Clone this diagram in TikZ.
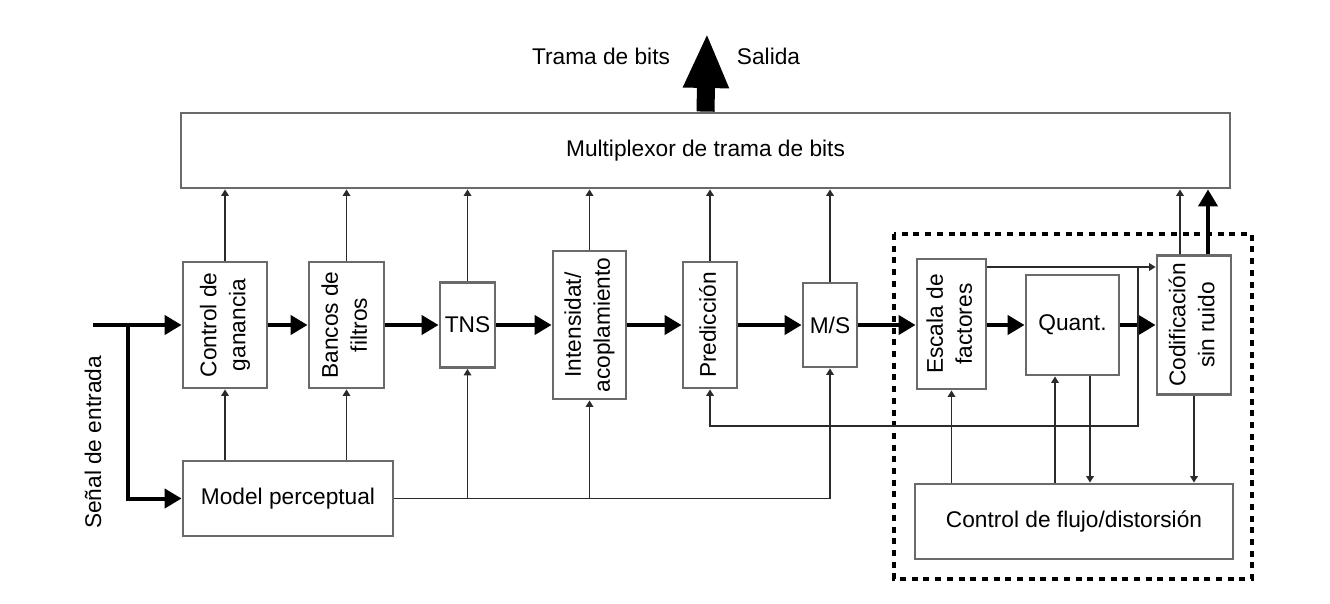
\documentclass[tikz,border=0pt]{standalone}
\usepackage{graphicx}
\usepackage{fontspec}
\setmainfont{Liberation Sans}
\usetikzlibrary{arrows.meta,calc}
\definecolor{boxgray}{HTML}{6A6A6A}
\definecolor{linegray}{HTML}{2A2A2A}
\newcommand{\rtxt}[1]{\rotatebox{90}{\begin{tabular}{@{}c@{}}#1\end{tabular}}}
\begin{document}
\begin{tikzpicture}[x=1pt,y=-1pt,
  every node/.style={font=\fontsize{22.7}{29}\selectfont},
  box/.style={draw=boxgray, line width=2.8pt, inner sep=0pt, align=center},
  thinarr/.style={draw=linegray, line width=1.8pt, -{Triangle[length=6.5pt,width=7.5pt]}},
  thickarr/.style={draw=black, line width=4pt, -{Triangle[length=17pt,width=19pt]}},
  dashbox/.style={draw=black, line width=4pt, dash pattern=on 6pt off 5.7pt},
]
\useasboundingbox (0,0) rectangle (1330,604);

% dashed group
\draw[dashbox] (894,234) rectangle (1252,579);

% boxes
\node[box, minimum width=1049pt, minimum height=75pt] (mux) at (705.5,150.5) {Multiplexor de trama de bits};
\node[box, minimum width=84pt, minimum height=126pt] (ctrl) at (225,325) {\rtxt{Control de\\ganancia}};
\node[box, minimum width=75pt, minimum height=126pt] (banc) at (346.5,325) {\rtxt{Bancos de\\filtros}};
\node[box, minimum width=55pt, minimum height=85pt] (tns) at (467.5,325) {TNS};
\node[box, minimum width=73pt, minimum height=148pt] (inten) at (589.5,325) {\rtxt{Intensidat/\\acoplamiento}};
\node[box, minimum width=54pt, minimum height=126pt] (pred) at (710,325) {\rtxt{Predicción}};
\node[box, minimum width=54pt, minimum height=84pt] (ms) at (830,325) {M/S};
\node[box, minimum width=69pt, minimum height=130pt] (esc) at (951.5,324) {\rtxt{Escala de\\factores}};
\node[box, minimum width=93pt, minimum height=100pt] (quant) at (1072.5,325) {Quant.};
\node[box, minimum width=74pt, minimum height=139pt] (codif) at (1194,325) {\rtxt{Codificación\\sin ruido}};
\node[box, minimum width=318pt, minimum height=75pt] (ctrlf) at (1074,521.5) {Control de flujo/distorsión};
\node[box, minimum width=210pt, minimum height=75pt] (model) at (288,498.5) {Model perceptual};

% texts
\node[rotate=90, anchor=base] (sig) at (101,442.5) {Señal de entrada};
\node[anchor=base] (trama) at (601,65) {Trama de bits};
\node[anchor=base] (salida) at (768.5,65) {Salida};

% coordinates
\coordinate (in) at (93,325);
\coordinate (br) at (128,325);
\coordinate (sfj) at (1138,267);
\coordinate (outtip) at (707,33);
\coordinate (qup) at ($(quant.south)+(-17.5,0)$);
\coordinate (qdn) at ($(quant.south)+(17.5,0)$);
\coordinate (cthin) at ($(codif.north)+(-14,0)$);
\coordinate (cthick) at ($(codif.north)+(14,0)$);

% output arrow
\draw[line width=18pt, -{Triangle[length=55pt,width=42pt]}] (mux.north) -- (outtip);

% main chain
\draw[thickarr] (in) -- (ctrl.west);
\draw[thickarr] (br) |- (model.west);
\draw[thickarr] (ctrl.east) -- (banc.west);
\draw[thickarr] (banc.east) -- (tns.west);
\draw[thickarr] (tns.east) -- (inten.west);
\draw[thickarr] (inten.east) -- (pred.west);
\draw[thickarr] (pred.east) -- (ms.west);
\draw[thickarr] (ms.east) -- (esc.west |- ms.east);
\draw[thickarr] (esc.east |- quant.west) -- (quant.west);
\draw[thickarr] (quant.east) -- (codif.west);

% perceptual model outputs
\draw[thinarr] (ctrl.south |- model.north) -- (ctrl.south);
\draw[thinarr] (banc.south |- model.north) -- (banc.south);
\draw[thinarr] (model.east) -| (ms.south);
\draw[thinarr] (tns.south |- model.east) -- (tns.south);
\draw[thinarr] (inten.south |- model.east) -- (inten.south);

% to multiplexor
\draw[thinarr] (ctrl.north) -- (ctrl.north |- mux.south);
\draw[thinarr] (banc.north) -- (banc.north |- mux.south);
\draw[thinarr] (tns.north) -- (tns.north |- mux.south);
\draw[thinarr] (inten.north) -- (inten.north |- mux.south);
\draw[thinarr] (pred.north) -- (pred.north |- mux.south);
\draw[thinarr] (ms.north) -- (ms.north |- mux.south);
\draw[thinarr] (cthin) -- (cthin |- mux.south);
\draw[thickarr] (cthick) -- (cthick |- mux.south);

% scale factors side path and feedback
\draw[thinarr] (esc.east |- sfj) -- (codif.west |- sfj);
\draw[thinarr] (sfj) -- (sfj |- 0,426) -| (pred.south);

% rate/distortion loop
\draw[thinarr] (esc.south |- ctrlf.north) -- (esc.south);
\draw[thinarr] (qup |- ctrlf.north) -- (qup);
\draw[thinarr] (qdn) -- (qdn |- ctrlf.north);
\draw[thinarr] (codif.south) -- (codif.south |- ctrlf.north);
\end{tikzpicture}
\end{document}
